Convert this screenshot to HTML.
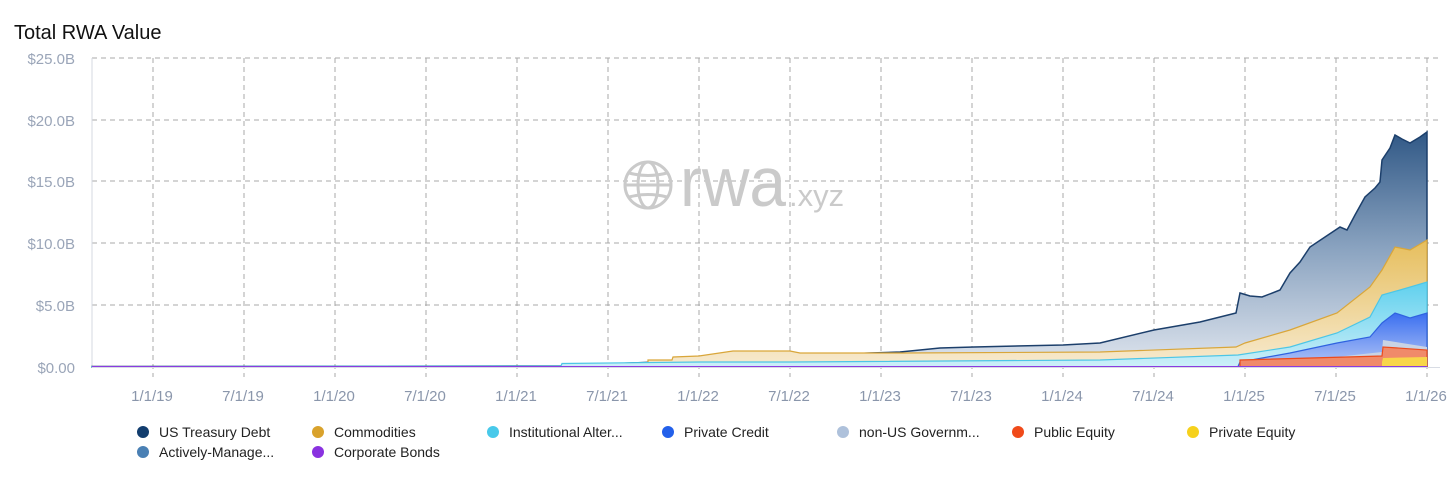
<!DOCTYPE html>
<html><head><meta charset="utf-8"><style>
html,body{margin:0;padding:0;background:#fff;}
svg{display:block;font-family:"Liberation Sans",sans-serif;}
</style></head><body>
<svg width="1456" height="499" viewBox="0 0 1456 499" xmlns="http://www.w3.org/2000/svg">
<defs>
<linearGradient id="gT" x1="0" y1="130" x2="0" y2="367" gradientUnits="userSpaceOnUse"><stop offset="0" stop-color="#2f5785"/><stop offset="0.5" stop-color="#8aa3c0"/><stop offset="1" stop-color="#dfe5ee"/></linearGradient>
<linearGradient id="gC" x1="0" y1="240" x2="0" y2="367" gradientUnits="userSpaceOnUse"><stop offset="0" stop-color="#e6be5c"/><stop offset="1" stop-color="#f7ead0"/></linearGradient>
<linearGradient id="gI" x1="0" y1="282" x2="0" y2="367" gradientUnits="userSpaceOnUse"><stop offset="0" stop-color="#5fd0ee"/><stop offset="1" stop-color="#cdeff8"/></linearGradient>
<linearGradient id="gP" x1="0" y1="313" x2="0" y2="367" gradientUnits="userSpaceOnUse"><stop offset="0" stop-color="#3b6ff0"/><stop offset="1" stop-color="#b4c7f6"/></linearGradient>
</defs>
<rect width="1456" height="499" fill="#fff"/>
<text x="14" y="39" font-size="20" fill="#111">Total RWA Value</text>
<g font-size="15" fill="#9aa5b8" text-anchor="end">
<text x="75" y="64">$25.0B</text><text x="75" y="126">$20.0B</text><text x="75" y="187">$15.0B</text><text x="75" y="249">$10.0B</text><text x="75" y="311">$5.0B</text><text x="75" y="373">$0.00</text>
</g>
<g stroke="#a8a8a8" stroke-width="1" stroke-dasharray="5,4">
<line x1="92" y1="58" x2="1440" y2="58"/><line x1="92" y1="120" x2="1440" y2="120"/><line x1="92" y1="181" x2="1440" y2="181"/><line x1="92" y1="243" x2="1440" y2="243"/><line x1="92" y1="305" x2="1440" y2="305"/>
<line x1="153" y1="58" x2="153" y2="377"/><line x1="244" y1="58" x2="244" y2="377"/><line x1="335" y1="58" x2="335" y2="377"/><line x1="426" y1="58" x2="426" y2="377"/><line x1="517" y1="58" x2="517" y2="377"/><line x1="608" y1="58" x2="608" y2="377"/><line x1="699" y1="58" x2="699" y2="377"/><line x1="790" y1="58" x2="790" y2="377"/><line x1="881" y1="58" x2="881" y2="377"/><line x1="972" y1="58" x2="972" y2="377"/><line x1="1063" y1="58" x2="1063" y2="377"/><line x1="1154" y1="58" x2="1154" y2="377"/><line x1="1245" y1="58" x2="1245" y2="377"/><line x1="1336" y1="58" x2="1336" y2="377"/><line x1="1427" y1="58" x2="1427" y2="377"/>
</g>
<line x1="92" y1="58" x2="92" y2="367" stroke="#d4d8e0"/>
<g fill="none" stroke="#cacaca" stroke-width="3">
<circle cx="648" cy="185" r="23"/><ellipse cx="648" cy="185" rx="10" ry="23"/><line x1="625" y1="185" x2="671" y2="185"/><path d="M629 173 Q648 178 667 173 M629 197 Q648 192 667 197"/>
</g>
<text x="680" y="206" font-size="70" fill="#cacaca" textLength="106" lengthAdjust="spacingAndGlyphs">rwa</text>
<text x="789" y="206" font-size="31" fill="#cacaca">.xyz</text>
<polygon fill="url(#gT)" stroke="#1c3f6b" stroke-width="1.5" points="92,366.5 560,366 870,353 900,352 940,348 974,347 1063,345 1100,343 1154,330 1200,322 1236,313 1240,293 1250,296 1262,297 1280,290 1290,273 1300,262 1310,247 1325,237 1340,227 1347,230 1355,215 1365,197 1375,188 1380,182 1382,160 1390,148 1395,135 1402,139 1410,143 1420,137 1427,132 1427,367 92,367"/>
<polygon fill="url(#gC)" stroke="#d9a63a" stroke-width="1.2" points="648,364 648,360 672,360 673,357 699,356 733,351 790,351 800,353 900,353 1100,352 1236,347 1245,343 1290,330 1337,313 1370,287 1382,270 1395,247 1410,250 1427,240 1427,367 648,367"/>
<polygon fill="url(#gI)" stroke="#4cc6e6" stroke-width="1.2" points="92,366.6 561,366 562,363.5 700,362 790,362 1100,360 1238,355 1290,347 1337,333 1370,317 1382,295 1400,290 1427,282 1427,367 92,367"/>
<polygon fill="url(#gP)" stroke="#2f62e0" stroke-width="1.2" points="1238,366.5 1240,362 1290,353 1337,343 1370,337 1382,323 1395,313 1410,318 1427,313 1427,367 1238,367"/>
<polygon fill="#c9d3e4" points="1240,366 1290,362 1382,352 1383,340 1427,347 1427,367 1240,367"/>
<polygon fill="#f08a6a" stroke="#ec4a1c" stroke-width="1.2" points="1240,360 1382,356 1383,347 1427,350 1427,367 1240,367"/>
<polygon fill="#f8d64a" points="1382,362 1383,358 1427,357 1427,367 1382,367"/>
<line x1="92" y1="366.5" x2="1427" y2="366.5" stroke="#8b3be0" stroke-width="1"/>
<line x1="92" y1="367.5" x2="1440" y2="367.5" stroke="#d8dce4"/>
<g font-size="15" fill="#8a96ab" text-anchor="middle">
<text x="152" y="401">1/1/19</text><text x="243" y="401">7/1/19</text><text x="334" y="401">1/1/20</text><text x="425" y="401">7/1/20</text><text x="516" y="401">1/1/21</text><text x="607" y="401">7/1/21</text><text x="698" y="401">1/1/22</text><text x="789" y="401">7/1/22</text><text x="880" y="401">1/1/23</text><text x="971" y="401">7/1/23</text><text x="1062" y="401">1/1/24</text><text x="1153" y="401">7/1/24</text><text x="1244" y="401">1/1/25</text><text x="1335" y="401">7/1/25</text><text x="1426" y="401">1/1/26</text>
</g>
<g font-size="14" fill="#222">
<circle cx="143" cy="432" r="6" fill="#123d6e"/><text x="159" y="437">US Treasury Debt</text>
<circle cx="318" cy="432" r="6" fill="#d9a22c"/><text x="334" y="437">Commodities</text>
<circle cx="493" cy="432" r="6" fill="#48c9ea"/><text x="509" y="437">Institutional Alter...</text>
<circle cx="668" cy="432" r="6" fill="#2360ea"/><text x="684" y="437">Private Credit</text>
<circle cx="843" cy="432" r="6" fill="#aec1db"/><text x="859" y="437">non-US Governm...</text>
<circle cx="1018" cy="432" r="6" fill="#f04a1a"/><text x="1034" y="437">Public Equity</text>
<circle cx="1193" cy="432" r="6" fill="#f6d11c"/><text x="1209" y="437">Private Equity</text>
<circle cx="143" cy="452" r="6" fill="#4a80b4"/><text x="159" y="457">Actively-Manage...</text>
<circle cx="318" cy="452" r="6" fill="#8a32e0"/><text x="334" y="457">Corporate Bonds</text>
</g>
</svg>
</body></html>
